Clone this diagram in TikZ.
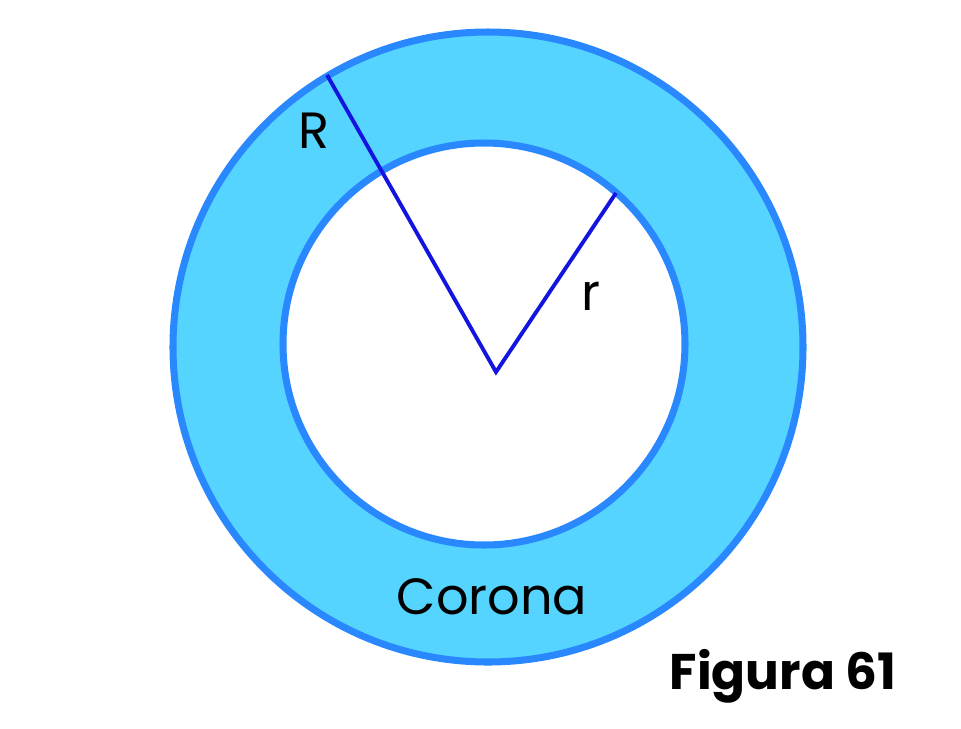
\documentclass[tikz,border=0pt]{standalone}
\usepackage{fontspec}
\setmainfont{Poppins}
\usetikzlibrary{positioning}
\definecolor{Ring}{HTML}{55D4FF}
\definecolor{Rim}{HTML}{2A88FF}
\definecolor{Radius}{HTML}{1414E0}

\begin{document}
\begin{tikzpicture}[x=0.02cm,y=-0.02cm,
  rim/.style={draw=Rim,line width=4pt},
  radius/.style={draw=Radius,line width=2.2pt},
  lbl/.style={font=\fontsize{29}{32}\selectfont,text=black,inner sep=0pt},
  title/.style={font=\bfseries\fontsize{28.5}{32}\selectfont,text=black,inner sep=0pt}
]
\useasboundingbox (0,0) rectangle (961,728);
% annulus
\fill[Ring,even odd rule] (488,347) circle (315) (484,344) circle (201);
\draw[rim] (488,347) circle (315);
\draw[rim] (484,344) circle (201);
% radii
\coordinate (c) at (496,372);
\coordinate (Rtip) at (327,75);
\coordinate (rtip) at (616,193);
\draw[radius] (Rtip) -- (c) -- (rtip);
% labels
\node[lbl] (Rlabel) at (314,131) {R};
\node[lbl] (rlabel) at (591,296) {r};
\node[lbl] (corona) at (492,597) {Corona};
\node[title] (fig) at (783,676) {Figura 61};
\end{tikzpicture}
\end{document}
